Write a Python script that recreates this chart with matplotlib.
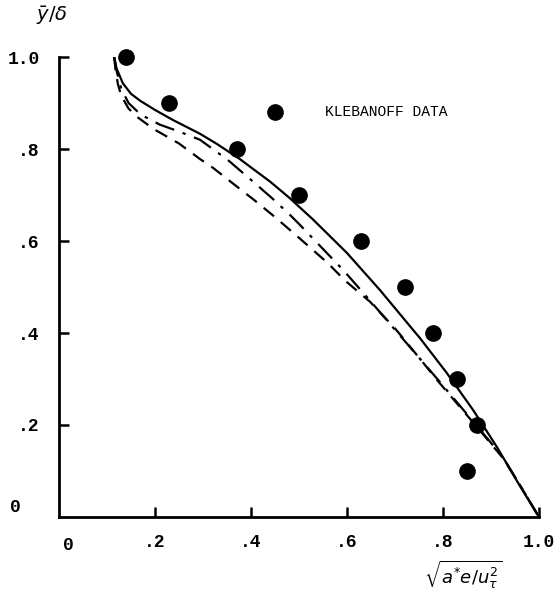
import matplotlib.pyplot as plt

# Klebanoff data points
data_x = [0.14, 0.23, 0.37, 0.45, 0.50, 0.63, 0.72, 0.78, 0.83, 0.87, 0.85]
data_y = [1.00, 0.90, 0.80, 0.88, 0.70, 0.60, 0.50, 0.40, 0.30, 0.20, 0.10]

# computed curves
solid_x = [0.115, 0.12, 0.133, 0.15, 0.169, 0.20, 0.2375, 0.294, 0.329, 0.377, 0.40, 0.44,
           0.481, 0.529, 0.60, 0.669, 0.7375, 0.752, 0.808, 0.8625, 0.9125, 0.96, 1.0]
solid_y = [1.00, 0.975, 0.943, 0.92, 0.905, 0.885, 0.863, 0.833, 0.811, 0.778, 0.760, 0.729,
           0.693, 0.647, 0.574, 0.493, 0.407, 0.389, 0.313, 0.233, 0.152, 0.068, 0.0]

dashdot_x = [0.115, 0.12, 0.13, 0.145, 0.17, 0.21, 0.25, 0.294, 0.352, 0.40, 0.444, 0.481,
             0.502, 0.558, 0.592, 0.64, 0.683, 0.70, 0.72, 0.794, 0.877, 0.925, 0.96, 1.0]
dashdot_y = [1.00, 0.97, 0.93, 0.90, 0.875, 0.853, 0.838, 0.82, 0.776, 0.733, 0.693, 0.657,
             0.635, 0.574, 0.537, 0.48, 0.428, 0.407, 0.383, 0.293, 0.19, 0.13, 0.07, 0.0]

dashed_x = [0.115, 0.118, 0.123, 0.13, 0.145, 0.165, 0.198, 0.25, 0.294, 0.321, 0.371, 0.408,
            0.45, 0.50, 0.56, 0.596, 0.648, 0.70, 0.72, 0.794, 0.877, 0.925, 0.96, 1.0]
dashed_y = [1.00, 0.97, 0.94, 0.915, 0.888, 0.868, 0.843, 0.812, 0.778, 0.759, 0.718, 0.688,
            0.652, 0.607, 0.552, 0.514, 0.468, 0.41, 0.385, 0.29, 0.188, 0.128, 0.07, 0.0]

tick_vals = [0.2, 0.4, 0.6, 0.8, 1.0]
tick_text = [".2", ".4", ".6", ".8", "1.0"]

mono = "Liberation Mono"

fig = plt.figure(figsize=(5.58, 6.02), dpi=100)
ax = fig.add_axes([0.1057, 0.1412, 0.8602, 0.7641])

ax.plot(solid_x, solid_y, color="black", lw=1.6)
ax.plot(dashdot_x, dashdot_y, color="black", lw=1.6, dashes=(9, 4, 1.5, 4))
ax.plot(dashed_x, dashed_y, color="black", lw=1.6, dashes=(6, 4))
ax.plot(data_x, data_y, "o", color="black", markersize=11, clip_on=False)

ax.set_xlim(0, 1.0)
ax.set_ylim(0, 1.0)
ax.spines["top"].set_visible(False)
ax.spines["right"].set_visible(False)
ax.spines["left"].set_linewidth(2)
ax.spines["bottom"].set_linewidth(2)

ax.set_xticks(tick_vals)
ax.set_xticklabels(tick_text, fontfamily=mono, fontsize=13, fontweight="bold")
ax.set_yticks(tick_vals)
ax.set_yticklabels(tick_text, fontfamily=mono, fontsize=13, fontweight="bold")
ax.tick_params(direction="in", length=7, width=1.8, pad=12)
ax.tick_params(axis="y", pad=14)

ax.text(0.555, 0.88, "KLEBANOFF DATA", fontfamily=mono, fontsize=10.5,
        va="center", ha="left")

# zero labels
fig.text(0.122, 0.094, "0", fontfamily=mono, fontsize=13, fontweight="bold", ha="center", va="center")
fig.text(0.027, 0.157, "0", fontfamily=mono, fontsize=13, fontweight="bold", ha="center", va="center")

fig.text(0.065, 0.975, r"$\bar{y}/\delta$", fontsize=14, ha="left", va="center")
fig.text(0.83, 0.045, r"$\sqrt{a^{*}e/u_{\tau}^{2}}$", fontsize=13, ha="center", va="center")

fig.savefig("out.png", dpi=100)
